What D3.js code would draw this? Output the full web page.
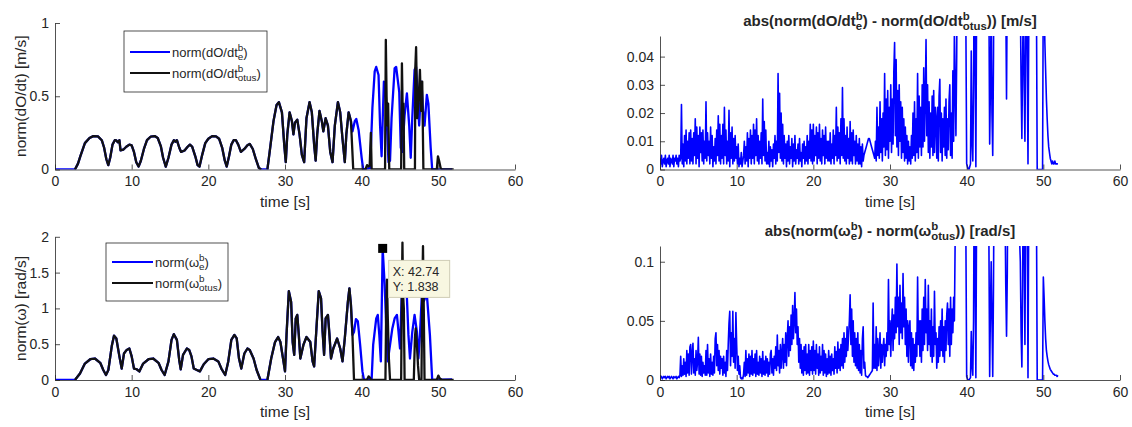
<!DOCTYPE html>
<html>
<head>
<meta charset="utf-8">
<script src="https://cdn.jsdelivr.net/npm/d3@7"></script>
<style>
  html, body { margin: 0; padding: 0; background: #fff; }
  svg { display: block; font-family: "Liberation Sans", Arial, Helvetica, sans-serif; }
</style>
</head>
<body>
<svg id="fig" width="1132" height="427"></svg>
<script>
// ---------------- data ----------------
const timeTicks = [0, 10, 20, 30, 40, 50, 60];
const timeTickLabels = ["0", "10", "20", "30", "40", "50", "60"];

const velTicks = [0, 0.5, 1];
const velTickLabels = ["0", "0.5", "1"];
const omegaTicks = [0, 0.5, 1, 1.5, 2];
const omegaTickLabels = ["0", "0.5", "1", "1.5", "2"];
const velErrTicks = [0, 0.01, 0.02, 0.03, 0.04];
const velErrTickLabels = ["0", "0.01", "0.02", "0.03", "0.04"];
const omegaErrTicks = [0, 0.05, 0.1];
const omegaErrTickLabels = ["0", "0.05", "0.1"];

// speed norm [m/s], [time, value] — part seen by both sources
const velWave1 = [
  [2.6,0],[3.0,0.04],[3.3,0.09],[3.9,0.18],[4.5,0.215],[5.0,0.228],[5.6,0.226],[6.1,0.2],[6.4,0.15],
  [6.7,0.07],[6.95,0.03],[7.2,0.08],[7.5,0.17],[7.8,0.2],[8.0,0.198],[8.2,0.185],[8.4,0.2],[8.55,0.13],
  [8.9,0.135],[9.3,0.155],[9.7,0.17],[10.0,0.165],[10.3,0.12],[10.6,0.05],[10.9,0.02],[11.2,0.06],
  [11.6,0.14],[12.0,0.2],[12.5,0.225],[13.0,0.228],[13.4,0.215],[13.8,0.16],[14.1,0.08],[14.45,0.02],
  [14.8,0.08],[15.2,0.17],[15.5,0.2],[15.7,0.19],[15.9,0.2],[16.2,0.15],[16.45,0.12],[16.9,0.13],
  [17.3,0.155],[17.6,0.17],[17.9,0.155],[18.3,0.09],[18.6,0.03],[18.85,0.02],[19.2,0.1],[19.6,0.18],
  [20.0,0.21],[20.5,0.228],[21.0,0.226],[21.4,0.21],[21.8,0.15],[22.15,0.06],[22.4,0.02],[22.7,0.09],
  [23.0,0.17],[23.3,0.2],[23.6,0.2],[23.9,0.17],[24.25,0.12],[24.7,0.14],[25.1,0.165],[25.4,0.175],
  [25.8,0.14],[26.2,0.07],[26.6,0.01],[26.9,0]
];
const velWave2 = [
  [27.7,0],[28.0,0.12],[28.5,0.33],[28.9,0.44],[29.2,0.46],[29.6,0.39],[29.9,0.17],[30.1,0.05],
  [30.3,0.24],[30.6,0.39],[30.9,0.33],[31.1,0.24],[31.3,0.32],[31.6,0.34],[31.9,0.24],[32.2,0.1],
  [32.5,0.05],[32.8,0.35],[33.2,0.46],[33.5,0.39],[33.8,0.17],[34.0,0.06],[34.2,0.24],[34.5,0.4],
  [34.8,0.33],[35.0,0.26],[35.3,0.35],[35.6,0.3],[35.9,0.12],[36.2,0.05],[36.5,0.3],[36.9,0.46],
  [37.2,0.39],[37.5,0.21],[37.8,0.05],[38.0,0.24],[38.3,0.39],[38.6,0.33]
];
const velTailE = [
  [38.8,0.26],[39.1,0.33],[39.3,0.345],[39.6,0.27],[40.0,0.08],[40.2,0],[41.1,0.01],[41.4,0.42],
  [41.7,0.67],[41.9,0.70],[42.2,0.645],[42.4,0.3],[42.6,0.09],[42.75,0.35],[42.9,0.6],[43.1,0.55],
  [43.3,0.3],[43.5,0.05],[43.7,0.06],[43.9,0.35],[44.3,0.69],[44.5,0.70],[44.9,0.53],[45.1,0.15],
  [45.3,0.12],[45.6,0.37],[45.9,0.52],[46.2,0.3],[46.4,0.08],[46.6,0.35],[46.9,0.68],[47.1,0.70],
  [47.3,0.5],[47.5,0.3],[47.8,0.6],[48.0,0.4],[48.2,0.3],[48.5,0.51],[48.7,0.45],[49.0,0.15],
  [49.2,0],[51.8,0]
];
const velTailOtus = [
  [38.9,0],[40.5,0],[40.7,0.03],[40.9,0.02],[41.05,0.03],[41.2,0.25],[41.3,0],[43.05,0],[43.15,0.885],
  [43.25,0.5],[43.35,0.3],[43.45,0.45],[43.6,0],[45.15,0],[45.25,0.725],[45.35,0.4],[45.45,0.45],
  [45.55,0],[46.95,0],[47.0,0.7],[47.1,0.835],[47.25,0.35],[47.45,0.5],[47.6,0.68],[47.75,0.4],
  [47.9,0.6],[48.05,0],[49.8,0],[49.95,0.09],[50.1,0.06],[50.3,0.01],[50.5,0],[52,0]
];

// angular rate norm [rad/s]
const omegaWave1 = [
  [2.6,0],[3.26,0.09],[3.9,0.23],[4.6,0.29],[5.2,0.30],[5.9,0.24],[6.3,0.14],[6.65,0.07],[6.96,0.14],
  [7.4,0.47],[7.7,0.62],[8.0,0.58],[8.4,0.33],[8.7,0.16],[9.0,0.37],[9.35,0.42],[9.7,0.44],[10.0,0.33],
  [10.3,0.16],[10.65,0.15],[11.0,0.12],[11.5,0.23],[12.2,0.29],[12.8,0.30],[13.5,0.24],[13.9,0.14],
  [14.3,0.07],[14.8,0.26],[15.2,0.56],[15.5,0.64],[15.9,0.56],[16.2,0.28],[16.4,0.15],[16.7,0.35],
  [17.2,0.44],[17.5,0.42],[17.8,0.33],[18.1,0.16],[18.5,0.14],[18.9,0.12],[19.4,0.22],[20.0,0.29],
  [20.65,0.30],[21.3,0.26],[21.7,0.16],[22.2,0.07],[22.6,0.26],[23.0,0.56],[23.4,0.63],[23.7,0.58],
  [24.0,0.3],[24.3,0.16],[24.7,0.37],[25.1,0.44],[25.4,0.42],[25.9,0.30],[26.3,0.14],[26.8,0]
];
const omegaWave2 = [
  [27.7,0],[28.2,0.3],[28.7,0.53],[29.1,0.6],[29.4,0.53],[29.8,0.26],[30.0,0.12],[30.2,0.63],
  [30.5,1.24],[30.8,1.09],[31.0,0.53],[31.2,0.35],[31.4,0.86],[31.6,0.91],[31.8,0.63],[32.0,0.3],
  [32.4,0.49],[32.8,0.6],[33.3,0.53],[33.6,0.26],[33.8,0.19],[34.1,0.72],[34.4,1.24],[34.7,1.14],
  [34.9,0.68],[35.1,0.35],[35.3,0.86],[35.6,0.91],[35.8,0.63],[36.0,0.3],[36.3,0.44],[36.8,0.58],
  [37.2,0.44],[37.5,0.26],[37.8,0.58],[38.2,1.09],[38.4,1.28],[38.6,1.05],[38.8,0.63]
];
const omegaTailE = [
  [39.0,0.67],[39.25,0.85],[39.5,0.82],[39.8,0.49],[40.1,0.12],[40.3,0],[41.3,0.01],[41.5,0.49],
  [41.9,0.86],[42.1,0.91],[42.3,0.63],[42.5,0.26],[42.6,0.9],[42.74,1.838],[43.0,1.33],[43.25,0.63],
  [43.4,0.26],[43.7,0.49],[44.0,0.72],[44.3,0.86],[44.6,0.91],[44.8,0.68],[45.0,0.44],[45.2,1.1],
  [45.4,1.5],[45.7,1.2],[45.9,1.15],[46.1,0.63],[46.3,0.3],[46.6,0.67],[46.9,0.91],[47.2,0.68],
  [47.4,0.3],[47.6,0.63],[47.9,1.3],[48.1,1.1],[48.5,1.2],[48.9,0.63],[49.2,0],[51.8,0.01]
];
const omegaTailOtus = [
  [39.0,0],[40.7,0],[40.9,0.05],[41.1,0.03],[41.2,0],[43.1,0],[43.2,1.0],[43.3,1.4],[43.4,0.9],
  [43.55,0.3],[43.7,0],[45.15,0],[45.25,1.3],[45.32,1.92],[45.4,1.2],[45.5,1.0],[45.6,0],[46.8,0],
  [46.95,0.6],[47.05,0.72],[47.2,0.5],[47.35,0.2],[47.5,0],[47.8,0],[47.9,1.2],[48.0,1.87],[48.1,1.0],
  [48.2,0],[49.8,0],[50.0,0.06],[50.2,0.02],[50.5,0],[52,0]
];

// absolute differences, one sample every 0.1 s starting at t = 0 (one row = 2 s)
const errSampleStep = 0.1;
const velErr = [
  .004,.002,.005,.001,.003,.004,.002,.005,.001,.003,.004,.002,.005,.001,.004,.003,.002,.005,.001,.004,
  .003,.005,.002,.004,.001,.005,.003,.004,.023,.002,.009,.001,.012,.003,.014,.002,.010,.004,.013,.002,
  .014,.003,.011,.002,.013,.005,.018,.002,.015,.004,.012,.001,.015,.006,.013,.003,.014,.002,.010,.004,
  .024,.003,.013,.005,.010,.002,.015,.004,.012,.001,.008,.003,.011,.002,.014,.005,.019,.003,.016,.002,
  .012,.004,.016,.002,.022,.005,.014,.002,.010,.003,.021,.001,.013,.004,.015,.002,.011,.003,.012,.004,
  .008,.002,.009,.001,.004,.002,.006,.001,.003,.005,.010,.002,.008,.003,.013,.001,.011,.004,.014,.002,
  .012,.004,.016,.002,.014,.005,.018,.003,.012,.002,.010,.004,.013,.002,.025,.005,.017,.003,.014,.002,
  .006,.002,.010,.001,.008,.003,.007,.001,.009,.004,.012,.002,.010,.003,.034,.006,.027,.004,.020,.003,
  .016,.002,.012,.004,.009,.001,.010,.003,.012,.002,.008,.004,.011,.001,.009,.003,.012,.002,.007,.004,
  .009,.002,.011,.003,.006,.001,.009,.004,.010,.002,.008,.003,.012,.002,.010,.004,.016,.003,.014,.002,
  .016,.003,.012,.005,.015,.002,.013,.004,.016,.003,.011,.002,.014,.005,.012,.002,.015,.004,.010,.003,
  .010,.003,.013,.002,.009,.004,.014,.002,.012,.005,.022,.003,.015,.004,.013,.002,.018,.005,.029,.004,
  .018,.003,.012,.002,.015,.004,.011,.002,.017,.003,.013,.002,.014,.005,.010,.002,.012,.003,.009,.002,
  .011,.002,.008,.001,.009,.003,.005,.006,.007,.008,.009,.010,.011,.011,.010,.009,.008,.007,.006,.005,
  .004,.010,.003,.022,.005,.015,.004,.024,.006,.018,.003,.020,.008,.034,.005,.025,.007,.028,.004,.022,
  .010,.030,.006,.025,.009,.035,.045,.012,.039,.008,.028,.005,.030,.010,.024,.004,.022,.006,.018,.003,
  .015,.004,.012,.002,.010,.003,.008,.002,.012,.004,.020,.005,.024,.003,.018,.006,.034,.004,.026,.008,
  .022,.005,.030,.008,.036,.010,.025,.046,.012,.030,.006,.024,.004,.020,.008,.026,.005,.028,.006,.022,
  .018,.004,.022,.003,.026,.032,.006,.020,.003,.018,.008,.022,.005,.025,.004,.018,.007,.024,.030,.005,
  .020,.004,.035,.010,.050,.030,.012,.040,.090,.150,.200,.250,.200,.180,.150,.120,.100,.080,.060,.050,
  .002,.001,.000,.000,.001,.002,.042,.010,.003,.030,.080,.040,.001,.060,.120,.200,.250,.300,.320,.340,
  .350,.380,.400,.380,.300,.250,.200,.150,.100,.060,.009,.030,.060,.020,.005,.040,.100,.200,.300,.320,
  .300,.320,.350,.330,.300,.250,.200,.170,.150,.120,.100,.060,.025,.070,.120,.180,.250,.300,.350,.380,
  .400,.380,.350,.320,.300,.250,.200,.150,.100,.080,.060,.030,.011,.040,.060,.030,.010,.050,.080,.040,
  .002,.050,.100,.150,.200,.250,.220,.150,.100,.080,.070,.060,.000,.000,.000,.000,.000,.000,.000,.000,
  .070,.060,.045,.035,.025,.018,.012,.008,.006,.004,.003,.002,.003,.002,.002,.003,.002,.002,.002,.002
];
const omegaErr = [
  .003,.002,.003,.001,.002,.003,.002,.003,.001,.002,.003,.002,.003,.001,.002,.003,.002,.001,.003,.002,
  .002,.003,.001,.002,.003,.002,.004,.020,.003,.012,.004,.018,.005,.015,.003,.025,.006,.022,.004,.028,
  .030,.005,.022,.031,.006,.018,.004,.025,.008,.015,.036,.005,.022,.004,.020,.003,.015,.006,.012,.004,
  .025,.004,.030,.006,.018,.003,.022,.005,.015,.004,.020,.006,.035,.040,.012,.030,.008,.025,.005,.020,
  .010,.018,.004,.020,.006,.015,.003,.025,.008,.030,.048,.058,.012,.040,.020,.058,.015,.035,.010,.057,
  .030,.008,.020,.005,.012,.002,.001,.002,.001,.005,.015,.003,.025,.004,.018,.006,.022,.003,.020,.005,
  .025,.004,.018,.006,.022,.003,.025,.005,.015,.004,.020,.006,.018,.003,.024,.005,.016,.004,.020,.006,
  .018,.003,.015,.005,.022,.025,.006,.018,.004,.020,.010,.028,.008,.038,.012,.025,.006,.030,.010,.022,
  .035,.010,.030,.015,.040,.012,.035,.050,.020,.045,.025,.055,.030,.063,.035,.050,.074,.040,.060,.030,
  .045,.015,.035,.010,.030,.006,.025,.004,.028,.008,.030,.005,.022,.006,.030,.004,.025,.008,.028,.005,
  .033,.008,.025,.005,.030,.010,.022,.004,.028,.006,.020,.008,.030,.004,.025,.006,.022,.003,.018,.005,
  .025,.006,.020,.004,.022,.008,.018,.005,.028,.010,.024,.006,.032,.010,.026,.008,.030,.012,.035,.010,
  .040,.015,.035,.020,.045,.025,.038,.050,.072,.030,.060,.020,.050,.015,.040,.012,.035,.010,.040,.008,
  .030,.006,.025,.004,.035,.045,.010,.015,.004,.003,.003,.002,.003,.004,.005,.006,.007,.008,.065,.010,
  .030,.010,.045,.008,.035,.012,.025,.040,.010,.030,.015,.028,.035,.012,.030,.020,.040,.025,.085,.030,
  .050,.020,.045,.060,.025,.055,.035,.070,.040,.098,.045,.070,.030,.080,.040,.065,.035,.090,.045,.070,
  .030,.060,.020,.050,.015,.045,.050,.012,.040,.010,.035,.008,.030,.015,.040,.020,.087,.030,.050,.020,
  .050,.015,.060,.025,.070,.030,.085,.040,.060,.025,.080,.030,.050,.020,.060,.015,.045,.020,.075,.030,
  .040,.010,.035,.015,.045,.020,.050,.025,.060,.020,.045,.015,.050,.025,.055,.065,.030,.060,.020,.070,
  .030,.060,.040,.070,.050,.120,.150,.200,.300,.400,.450,.400,.350,.300,.250,.200,.180,.150,.130,.120,
  .003,.001,.000,.000,.001,.002,.041,.012,.004,.050,.200,.090,.002,.150,.300,.400,.500,.550,.600,.650,
  .700,.750,.800,.700,.600,.500,.400,.300,.200,.120,.003,.060,.100,.050,.003,.080,.200,.350,.500,.550,
  .600,.650,.700,.600,.500,.450,.400,.350,.300,.200,.150,.080,.037,.090,.200,.300,.450,.600,.700,.800,
  .900,.850,.800,.700,.600,.500,.400,.300,.200,.120,.100,.040,.011,.080,.200,.120,.030,.150,.300,.150,
  .002,.150,.300,.450,.600,.550,.500,.400,.300,.250,.200,.150,.000,.000,.000,.000,.000,.000,.000,.000,
  .087,.070,.050,.035,.025,.020,.016,.013,.011,.009,.008,.007,.006,.005,.005,.004,.004,.004,.003,.004
];

// data tip on the estimated angular rate
const tipTime = 42.74;
const tipValue = 1.838;

// ---------------- drawing ----------------
const INK = "#262626";
const BLUE = "#0000ff";
const BLACK = "#111111";
const TICK_FONT = 14, LABEL_FONT = 15.5, TITLE_FONT = 15, LEGEND_FONT = 13;

const svg = d3.select("#fig");

// text with TeX-like stacked super/subscripts: parts = [{t}, {sup, sub}, ...]
function richText(parent, x, y, parts, size, opts = {}) {
  const g = parent.append("g")
    .attr("fill", INK)
    .style("font-weight", opts.bold ? "bold" : "normal");
  let cx = 0;
  for (const p of parts) {
    if (p.t !== undefined) {
      const el = g.append("text").attr("x", cx).attr("y", 0)
        .style("font-size", size + "px").text(p.t);
      cx += el.node().getComputedTextLength();
    } else {
      const s = size * 0.76;
      const a = g.append("text").attr("x", cx).attr("y", -size * 0.42)
        .style("font-size", s + "px").text(p.sup);
      const b = g.append("text").attr("x", cx).attr("y", size * 0.28)
        .style("font-size", s + "px").text(p.sub);
      cx += Math.max(a.node().getComputedTextLength(), b.node().getComputedTextLength());
    }
  }
  const dx = opts.anchor === "middle" ? -cx / 2 : 0;
  g.attr("transform", `translate(${x + dx},${y})`);
  return g;
}

let clipCount = 0;
function makePanel(box, yDomain, yTicks, yLabels) {
  const xs = d3.scaleLinear().domain([0, 60]).range([box.left, box.right]);
  const ys = d3.scaleLinear().domain(yDomain).range([box.bottom, box.top]);
  const g = svg.append("g");
  const id = "clip" + (clipCount++);
  g.append("clipPath").attr("id", id).append("rect")
    .attr("x", box.left).attr("y", box.top)
    .attr("width", box.right - box.left).attr("height", box.bottom - box.top);
  const plot = g.append("g").attr("clip-path", `url(#${id})`);

  const xAxis = d3.axisBottom(xs).tickValues(timeTicks)
    .tickFormat((d, i) => timeTickLabels[i])
    .tickSizeInner(-5).tickSizeOuter(0).tickPadding(7);
  const yAxis = d3.axisLeft(ys).tickValues(yTicks)
    .tickFormat((d, i) => yLabels[i])
    .tickSizeInner(-5).tickSizeOuter(0).tickPadding(6);

  const axesG = g.append("g");
  const xg = axesG.append("g").attr("transform", `translate(0,${box.bottom})`).call(xAxis);
  const yg = axesG.append("g").attr("transform", `translate(${box.left},0)`).call(yAxis);
  [xg, yg].forEach(a => {
    a.select(".domain").attr("stroke", INK).attr("stroke-width", 0.8);
    a.selectAll(".tick line").attr("stroke", INK).attr("stroke-width", 0.8);
    a.selectAll(".tick text").attr("fill", INK)
      .style("font-size", TICK_FONT + "px")
      .style("font-family", '"Liberation Sans", Arial, Helvetica, sans-serif');
  });

  g.append("text")
    .attr("x", (box.left + box.right) / 2).attr("y", box.bottom + 37)
    .attr("text-anchor", "middle").attr("fill", INK)
    .style("font-size", LABEL_FONT + "px").text("time [s]");

  return { g, plot, xs, ys, axesG };
}

function pairLine(p) {
  return d3.line().defined(d => d !== null).x(d => p.xs(d[0])).y(d => p.ys(d[1]));
}
function sampledLine(p) {
  return d3.line().x((d, i) => p.xs(i * errSampleStep)).y(d => p.ys(d));
}

// ----- top left: speed norms -----
const pVel = makePanel({ left: 55, right: 515, top: 23, bottom: 169.5 }, [0, 1], velTicks, velTickLabels);
const velE = [[0, 0], ...velWave1, ...velWave2, ...velTailE];
const velOtus = [...velWave1, null, ...velWave2, ...velTailOtus];
pVel.plot.append("path").datum(velE).attr("d", pairLine(pVel))
  .attr("fill", "none").attr("stroke", BLUE).attr("stroke-width", 2.3).attr("stroke-linejoin", "round");
pVel.plot.append("path").datum(velOtus).attr("d", pairLine(pVel))
  .attr("fill", "none").attr("stroke", BLACK).attr("stroke-width", 2.3).attr("stroke-linejoin", "round");
pVel.g.append("text")
  .attr("transform", `translate(26,${(23 + 169.5) / 2}) rotate(-90)`)
  .attr("text-anchor", "middle").attr("fill", INK)
  .style("font-size", LABEL_FONT + "px").text("norm(dO/dt) [m/s]");

// legend
{
  const lg = pVel.g.append("g");
  lg.append("rect").attr("x", 124).attr("y", 31).attr("width", 143).attr("height", 61)
    .attr("fill", "#fff").attr("stroke", INK).attr("stroke-width", 0.8);
  const rows = [
    { y: 52, color: BLUE, parts: [{ t: "norm(dO/dt" }, { sup: "b", sub: "e" }, { t: ")" }] },
    { y: 73, color: BLACK, parts: [{ t: "norm(dO/dt" }, { sup: "b", sub: "otus" }, { t: ")" }] }
  ];
  rows.forEach(r => {
    lg.append("line").attr("x1", 130).attr("x2", 170).attr("y1", r.y).attr("y2", r.y)
      .attr("stroke", r.color).attr("stroke-width", 2.2);
    richText(lg, 172, r.y + 4.5, r.parts, LEGEND_FONT);
  });
}

// ----- bottom left: angular rate norms -----
const pOm = makePanel({ left: 55, right: 515, top: 236.8, bottom: 380 }, [0, 2], omegaTicks, omegaTickLabels);
const omegaE = [[0, 0], ...omegaWave1, ...omegaWave2, ...omegaTailE];
const omegaOtus = [...omegaWave1, null, ...omegaWave2, ...omegaTailOtus];
pOm.plot.append("path").datum(omegaE).attr("d", pairLine(pOm))
  .attr("fill", "none").attr("stroke", BLUE).attr("stroke-width", 2.3).attr("stroke-linejoin", "round");
pOm.plot.append("path").datum(omegaOtus).attr("d", pairLine(pOm))
  .attr("fill", "none").attr("stroke", BLACK).attr("stroke-width", 2.3).attr("stroke-linejoin", "round");
pOm.g.append("text")
  .attr("transform", `translate(26,${(236.8 + 380) / 2}) rotate(-90)`)
  .attr("text-anchor", "middle").attr("fill", INK)
  .style("font-size", LABEL_FONT + "px").text("norm(ω) [rad/s]");

{
  const lg = pOm.g.append("g");
  lg.append("rect").attr("x", 106).attr("y", 243).attr("width", 122).attr("height", 58)
    .attr("fill", "#fff").attr("stroke", INK).attr("stroke-width", 0.8);
  const rows = [
    { y: 262, color: BLUE, parts: [{ t: "norm(ω" }, { sup: "b", sub: "e" }, { t: ")" }] },
    { y: 283, color: BLACK, parts: [{ t: "norm(ω" }, { sup: "b", sub: "otus" }, { t: ")" }] }
  ];
  rows.forEach(r => {
    lg.append("line").attr("x1", 112).attr("x2", 153).attr("y1", r.y).attr("y2", r.y)
      .attr("stroke", r.color).attr("stroke-width", 2.2);
    richText(lg, 155, r.y + 4.5, r.parts, LEGEND_FONT);
  });
}

// data tip
{
  const mx = pOm.xs(tipTime), my = pOm.ys(tipValue);
  const tg = pOm.g.append("g");
  tg.append("rect").attr("x", mx - 4.5).attr("y", my - 4.5).attr("width", 9).attr("height", 9)
    .attr("fill", "#000");
  tg.append("rect").attr("x", mx + 6).attr("y", my + 12).attr("width", 61).attr("height", 37)
    .attr("fill", "#f8f7e1").attr("stroke", "#cfcdb5").attr("stroke-width", 1);
  const fmt = d3.format(".4~g");
  tg.append("text").attr("x", mx + 10).attr("y", my + 28).attr("fill", INK)
    .style("font-size", "12.5px").text("X: " + fmt(tipTime));
  tg.append("text").attr("x", mx + 10).attr("y", my + 43).attr("fill", INK)
    .style("font-size", "12.5px").text("Y: " + fmt(tipValue));
}

// ----- top right: speed difference -----
const pVelErr = makePanel({ left: 660, right: 1120, top: 36, bottom: 169.5 }, [0, 0.0473], velErrTicks, velErrTickLabels);
pVelErr.plot.append("path").datum(velErr).attr("d", sampledLine(pVelErr))
  .attr("fill", "none").attr("stroke", BLUE).attr("stroke-width", 1.6).attr("stroke-linejoin", "round");
richText(pVelErr.g, 890, 26,
  [{ t: "abs(norm(dO/dt" }, { sup: "b", sub: "e" }, { t: ") - norm(dO/dt" }, { sup: "b", sub: "otus" }, { t: ")) [m/s]" }],
  TITLE_FONT, { bold: true, anchor: "middle" });

// ----- bottom right: angular rate difference -----
const pOmErr = makePanel({ left: 660, right: 1120, top: 246, bottom: 380 }, [0, 0.1133], omegaErrTicks, omegaErrTickLabels);
pOmErr.plot.append("path").datum(omegaErr).attr("d", sampledLine(pOmErr))
  .attr("fill", "none").attr("stroke", BLUE).attr("stroke-width", 1.6).attr("stroke-linejoin", "round");
richText(pOmErr.g, 890, 236,
  [{ t: "abs(norm(ω" }, { sup: "b", sub: "e" }, { t: ") - norm(ω" }, { sup: "b", sub: "otus" }, { t: ")) [rad/s]" }],
  TITLE_FONT, { bold: true, anchor: "middle" });

// keep axes above the traces
[pVel, pOm, pVelErr, pOmErr].forEach(p => p.axesG.raise());
</script>
</body>
</html>
